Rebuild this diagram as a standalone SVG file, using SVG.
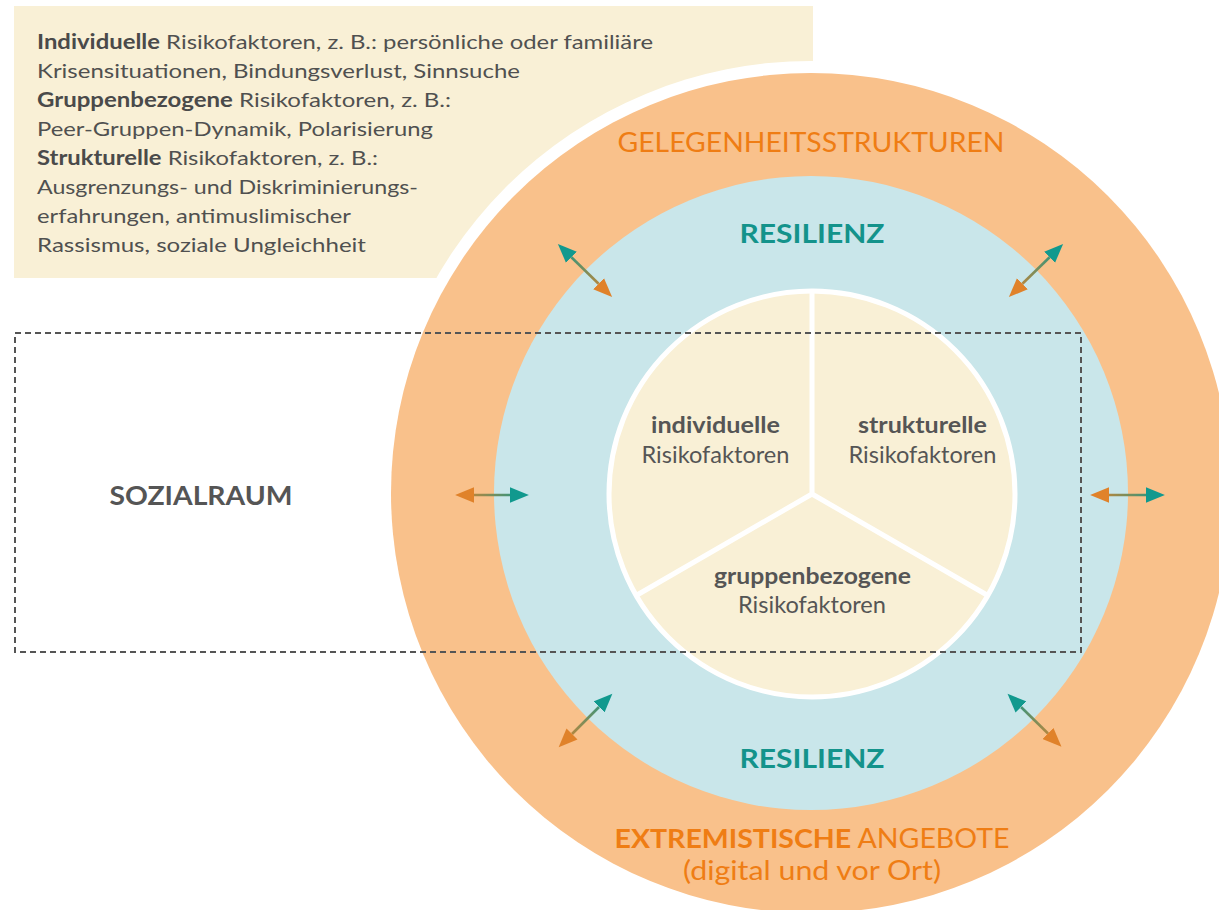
<svg xmlns="http://www.w3.org/2000/svg" width="1219" height="910" viewBox="0 0 1219 910">
<style>
.box{font-family:"Source Sans Pro",Lato,"Noto Sans",sans-serif;font-size:20px;fill:#505050}
.b{font-weight:bold;fill:#4a4a4a}
.seg{font-family:"Source Sans Pro",Lato,"Noto Sans",sans-serif;font-size:23px;fill:#555;text-anchor:middle}
.res{font-family:"Source Sans Pro",Lato,"Noto Sans",sans-serif;font-size:27px;font-weight:bold;fill:#13938b;text-anchor:middle}
.org{font-family:"Source Sans Pro",Lato,"Noto Sans",sans-serif;font-size:27px;fill:#ef7d14;text-anchor:middle}
.arr{stroke-width:2.6;fill:none}
</style>
<defs>
<marker id="hO" markerUnits="userSpaceOnUse" markerWidth="20" markerHeight="16" refX="0" refY="7" orient="auto-start-reverse" viewBox="0 0 18 14"><path d="M0,0 L17,7 L0,14 z" fill="#e0822a"/></marker>
<marker id="hT" markerUnits="userSpaceOnUse" markerWidth="20" markerHeight="16" refX="0" refY="7" orient="auto-start-reverse" viewBox="0 0 18 14"><path d="M0,0 L17,7 L0,14 z" fill="#11998e"/></marker>
<linearGradient id="g1" gradientUnits="userSpaceOnUse" x1="610" y1="295" x2="560" y2="246"><stop offset="0" stop-color="#e0822a"/><stop offset="1" stop-color="#11998e"/></linearGradient>
<linearGradient id="g2" gradientUnits="userSpaceOnUse" x1="1011" y1="295" x2="1061" y2="246"><stop offset="0" stop-color="#e0822a"/><stop offset="1" stop-color="#11998e"/></linearGradient>
<linearGradient id="g3" gradientUnits="userSpaceOnUse" x1="457" y1="495" x2="527" y2="495"><stop offset="0" stop-color="#e0822a"/><stop offset="1" stop-color="#11998e"/></linearGradient>
<linearGradient id="g4" gradientUnits="userSpaceOnUse" x1="1092" y1="495" x2="1163" y2="495"><stop offset="0" stop-color="#e0822a"/><stop offset="1" stop-color="#11998e"/></linearGradient>
<linearGradient id="g5" gradientUnits="userSpaceOnUse" x1="560" y1="746" x2="611" y2="695"><stop offset="0" stop-color="#e0822a"/><stop offset="1" stop-color="#11998e"/></linearGradient>
<linearGradient id="g6" gradientUnits="userSpaceOnUse" x1="1060" y1="745" x2="1009" y2="695"><stop offset="0" stop-color="#e0822a"/><stop offset="1" stop-color="#11998e"/></linearGradient>
</defs>
<rect width="1219" height="910" fill="#ffffff"/>
<g id="infobox">
<rect x="14" y="6" width="799" height="272" fill="#f9f0d6"/>
<text class="box" x="37" y="49" textLength="616" lengthAdjust="spacingAndGlyphs"><tspan class="b">Individuelle</tspan> Risikofaktoren, z. B.: persönliche oder familiäre</text>
<text class="box" x="37" y="78" textLength="483" lengthAdjust="spacingAndGlyphs">Krisensituationen, Bindungsverlust, Sinnsuche</text>
<text class="box" x="37" y="107" textLength="414" lengthAdjust="spacingAndGlyphs"><tspan class="b">Gruppenbezogene</tspan> Risikofaktoren, z. B.:</text>
<text class="box" x="37" y="136" textLength="396" lengthAdjust="spacingAndGlyphs">Peer-Gruppen-Dynamik, Polarisierung</text>
<text class="box" x="37" y="165" textLength="341" lengthAdjust="spacingAndGlyphs"><tspan class="b">Strukturelle</tspan> Risikofaktoren, z. B.:</text>
<text class="box" x="37" y="194" textLength="381" lengthAdjust="spacingAndGlyphs">Ausgrenzungs- und Diskriminierungs-</text>
<text class="box" x="37" y="223" textLength="314" lengthAdjust="spacingAndGlyphs">erfahrungen, antimuslimischer</text>
<text class="box" x="37" y="252" textLength="329" lengthAdjust="spacingAndGlyphs">Rassismus, soziale Ungleichheit</text>
</g>
<g id="outer-ring">
<circle cx="811" cy="493" r="432" fill="#ffffff"/>
<circle cx="811" cy="493" r="420" fill="#f9c18b"/>
<text class="org" x="811" y="152" textLength="387" lengthAdjust="spacingAndGlyphs">GELEGENHEITSSTRUKTUREN</text>
<text class="org" x="812" y="848" textLength="395" lengthAdjust="spacingAndGlyphs"><tspan font-weight="bold">EXTREMISTISCHE</tspan> ANGEBOTE</text>
<text class="org" x="812" y="880" textLength="258" lengthAdjust="spacingAndGlyphs">(digital und vor Ort)</text>
</g>
<g id="resilienz-ring">
<circle cx="811" cy="493" r="317" fill="#c9e6ea"/>
<text class="res" x="812" y="243" textLength="145" lengthAdjust="spacingAndGlyphs">RESILIENZ</text>
<text class="res" x="812" y="768" textLength="145" lengthAdjust="spacingAndGlyphs">RESILIENZ</text>
</g>
<g id="risk-core">
<circle cx="812" cy="494" r="203" fill="#f9f0d6" stroke="#ffffff" stroke-width="5"/>
<path d="M812,494 L812,291 M812,494 L636.2,595.5 M812,494 L987.8,595.5" stroke="#ffffff" stroke-width="5" fill="none"/>
</g>
<g id="seg-individuelle">
<text class="seg" x="715.5" y="433" font-weight="bold" textLength="129" lengthAdjust="spacingAndGlyphs">individuelle</text>
<text class="seg" x="715.5" y="463" textLength="148" lengthAdjust="spacingAndGlyphs">Risikofaktoren</text>
</g>
<g id="seg-strukturelle">
<text class="seg" x="922.5" y="433" font-weight="bold" textLength="129" lengthAdjust="spacingAndGlyphs">strukturelle</text>
<text class="seg" x="922.5" y="463" textLength="148" lengthAdjust="spacingAndGlyphs">Risikofaktoren</text>
</g>
<g id="seg-gruppenbezogene">
<text class="seg" x="812.5" y="584" font-weight="bold" textLength="197" lengthAdjust="spacingAndGlyphs">gruppenbezogene</text>
<text class="seg" x="812" y="613" textLength="148" lengthAdjust="spacingAndGlyphs">Risikofaktoren</text>
</g>
<g id="sozialraum">
<rect x="15" y="333" width="1066" height="319" fill="none" stroke="#555555" stroke-width="2" stroke-dasharray="6 4"/>
<text x="201" y="505" font-family="'Source Sans Pro',Lato,'Noto Sans',sans-serif" font-size="26" font-weight="bold" fill="#555" text-anchor="middle" textLength="183" lengthAdjust="spacingAndGlyphs">SOZIALRAUM</text>
</g>
<g id="connectors">
<path class="arr" stroke="url(#g1)" d="M598.6,283.8 L571.4,257.2" marker-start="url(#hO)" marker-end="url(#hT)"/>
<path class="arr" stroke="url(#g2)" d="M1022.4,283.8 L1049.6,257.2" marker-start="url(#hO)" marker-end="url(#hT)"/>
<path class="arr" stroke="url(#g3)" d="M474,495 L510,495" marker-start="url(#hO)" marker-end="url(#hT)"/>
<path class="arr" stroke="url(#g4)" d="M1109,495 L1146,495" marker-start="url(#hO)" marker-end="url(#hT)"/>
<path class="arr" stroke="url(#g5)" d="M572,734 L599,707" marker-start="url(#hO)" marker-end="url(#hT)"/>
<path class="arr" stroke="url(#g6)" d="M1048,733.5 L1021,707" marker-start="url(#hO)" marker-end="url(#hT)"/>
</g>
</svg>
